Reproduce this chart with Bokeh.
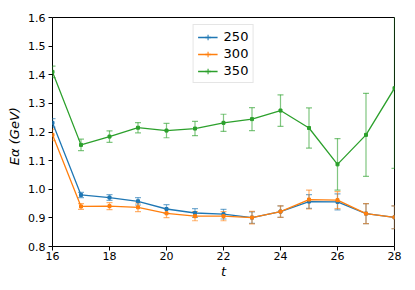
from bokeh.plotting import figure
from bokeh.models import ColumnDataSource, Whisker, TeeHead, Legend, LegendItem, FixedTicker, Range1d, CustomJSTickFormatter
from bokeh.embed import file_html
from bokeh.resources import INLINE

t = [16, 17, 18, 19, 20, 21, 22, 23, 24, 25, 26, 27, 28]
series_names = ["250", "300", "350"]
e250 = [1.232, 0.980, 0.971, 0.958, 0.931, 0.917, 0.913, 0.901, 0.922, 0.957, 0.956, 0.915, 0.902]
err250 = [0.015, 0.009, 0.010, 0.013, 0.015, 0.015, 0.017, 0.020, 0.020, 0.024, 0.028, 0.035, 0.040]
e300 = [1.190, 0.940, 0.941, 0.937, 0.916, 0.906, 0.906, 0.901, 0.922, 0.964, 0.962, 0.915, 0.902]
err300 = [0.020, 0.010, 0.012, 0.015, 0.015, 0.016, 0.016, 0.022, 0.020, 0.033, 0.030, 0.035, 0.040]
e350 = [1.410, 1.155, 1.184, 1.215, 1.205, 1.212, 1.232, 1.245, 1.275, 1.214, 1.087, 1.190, 1.353]
err350 = [0.020, 0.020, 0.020, 0.018, 0.025, 0.025, 0.030, 0.040, 0.055, 0.070, 0.090, 0.145, 0.280]
colors = ["#1f77b4", "#ff7f0e", "#2ca02c"]
x_ticks = [16, 18, 20, 22, 24, 26, 28]
y_ticks = [0.8, 0.9, 1.0, 1.1, 1.2, 1.3, 1.4, 1.5, 1.6]

p = figure(width=415, height=290, output_backend="svg", toolbar_location=None,
           x_range=Range1d(16, 28), y_range=Range1d(0.8, 1.6),
           min_border_left=52, min_border_right=21, min_border_top=17, min_border_bottom=44)
p.background_fill_color = "white"
p.border_fill_color = "white"
p.outline_line_color = "black"
p.outline_line_width = 1
p.grid.visible = False

for ax in (p.xaxis[0], p.yaxis[0]):
    ax.major_label_text_font = "DejaVu Sans"
    ax.major_label_text_font_size = "11px"
    ax.major_label_text_color = "black"
    ax.axis_line_color = None
    ax.major_tick_line_color = "black"
    ax.major_tick_out = 4
    ax.major_tick_in = 0
    ax.minor_tick_line_color = None
    ax.axis_label_text_font = "DejaVu Sans"
    ax.axis_label_text_font_style = "italic"
    ax.axis_label_text_font_size = "13px"
    ax.axis_label_text_color = "black"

p.xaxis.ticker = FixedTicker(ticks=x_ticks)
p.yaxis.ticker = FixedTicker(ticks=y_ticks)
p.yaxis.formatter = CustomJSTickFormatter(code="return tick.toFixed(1);")
p.xaxis.axis_label = "t"
p.yaxis.axis_label = "Eα   (GeV)"
p.xaxis.axis_label_standoff = 1
p.yaxis.axis_label_standoff = 3
p.xaxis.major_label_standoff = 1
p.yaxis.major_label_standoff = 3

items = []
for name, vals, errs, col in zip(series_names, [e250, e300, e350], [err250, err300, err350], colors):
    src = ColumnDataSource(dict(x=t, y=vals,
                                lo=[v - e for v, e in zip(vals, errs)],
                                hi=[v + e for v, e in zip(vals, errs)]))
    w = Whisker(source=src, base="x", upper="hi", lower="lo", dimension="height",
                line_color=col, line_alpha=0.6, line_width=1.2,
                upper_head=TeeHead(size=6, line_color=col, line_alpha=0.6, line_width=1.2),
                lower_head=TeeHead(size=6, line_color=col, line_alpha=0.6, line_width=1.2))
    p.add_layout(w)
    lr = p.line("x", "y", source=src, line_color=col, line_width=1.3)
    dr = p.scatter("x", "y", source=src, marker="square", size=3, color=col)
    cr = p.scatter(x=[0], y=[0], marker="cross", size=13, line_color=col, line_alpha=0.7, line_width=1.5)
    items.append(LegendItem(label=name, renderers=[lr, cr]))

legend = Legend(items=items, location="top_center")
legend.label_text_font = "DejaVu Sans"
legend.label_text_font_size = "13px"
legend.label_text_color = "black"
legend.glyph_width = 20
legend.glyph_height = 14
legend.label_height = 14
legend.label_standoff = 6
legend.spacing = 2
legend.padding = 4
legend.margin = 7
legend.border_line_color = "#cccccc"
legend.border_line_width = 1
legend.background_fill_alpha = 0.8
p.add_layout(legend)

open("out.html", "w").write(file_html(p, INLINE))
